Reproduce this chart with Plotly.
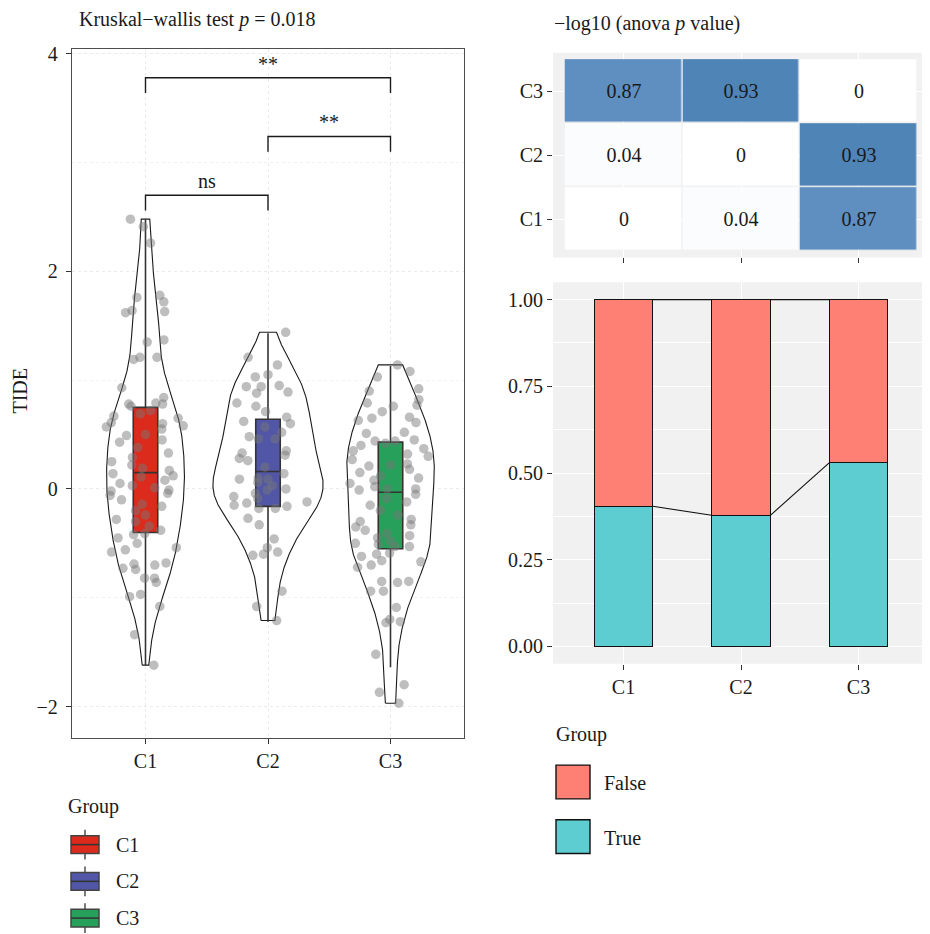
import numpy as np
import plotly.graph_objects as go

# page body has an 8px margin: the figure is offset by OFF px, so it is sized to fit
OFF = 8
W, H = 930 - OFF, 934 - OFF
FONT = "Liberation Serif"
FS = 20
TXT = "#1a1a1a"

# ---------------- data ----------------
groups = ["C1", "C2", "C3"]
group_colors = ["#DC2B1C", "#5256A6", "#26A05A"]

tide_c1 = [2.48, 2.41, 2.26, 1.78, 1.76, 1.72, 1.64, 1.63, 1.62, 1.37, 1.35, 1.21, 1.21, 1.19,
           0.93, 0.84, 0.79, 0.78, 0.78, 0.76, 0.72, 0.69, 0.67, 0.65, 0.61, 0.60, 0.58, 0.57,
           0.55, 0.50, 0.49, 0.45, 0.43, 0.38, 0.33, 0.29, 0.25, 0.22, 0.19, 0.17, 0.14, 0.12,
           0.11, 0.08, 0.05, 0.03, 0.01, -0.01, -0.02, -0.04, -0.06, -0.10, -0.14, -0.16, -0.20,
           -0.24, -0.28, -0.30, -0.34, -0.38, -0.41, -0.42, -0.45, -0.50, -0.54, -0.56, -0.58,
           -0.68, -0.69, -0.70, -0.73, -0.74, -0.82, -0.82, -0.86, -0.97, -0.99, -1.08, -1.34, -1.62]
tide_c2 = [1.44, 1.21, 1.14, 1.05, 1.03, 0.95, 0.94, 0.94, 0.89, 0.88, 0.79, 0.76, 0.71, 0.66,
           0.62, 0.60, 0.57, 0.52, 0.48, 0.46, 0.46, 0.35, 0.33, 0.31, 0.28, 0.26, 0.20, 0.14,
           0.10, 0.09, 0.09, 0.06, 0.03, 0.00, -0.01, -0.04, -0.07, -0.09, -0.12, -0.13, -0.15,
           -0.16, -0.18, -0.18, -0.27, -0.33, -0.46, -0.54, -0.58, -0.60, -0.61, -0.94, -1.08, -1.21]
tide_c3 = [1.14, 1.08, 1.03, 0.92, 0.90, 0.82, 0.79, 0.77, 0.76, 0.71, 0.66, 0.65, 0.63, 0.61,
           0.52, 0.51, 0.45, 0.44, 0.44, 0.42, 0.40, 0.37, 0.35, 0.32, 0.30, 0.27, 0.23, 0.22,
           0.21, 0.18, 0.15, 0.12, 0.10, 0.08, 0.05, 0.02, 0.00, 0.00, -0.01, -0.05, -0.09, -0.12,
           -0.15, -0.20, -0.24, -0.28, -0.30, -0.33, -0.35, -0.38, -0.41, -0.43, -0.45, -0.48,
           -0.50, -0.51, -0.53, -0.53, -0.59, -0.60, -0.62, -0.66, -0.67, -0.70, -0.72, -0.85,
           -0.85, -0.86, -0.94, -0.94, -1.09, -1.20, -1.22, -1.23, -1.52, -1.80, -1.87, -1.97]

box_q1 = [-0.40, -0.16, -0.55]
box_median = [0.15, 0.16, -0.03]
box_q3 = [0.75, 0.64, 0.43]
box_lowerfence = [-1.62, -1.22, -1.64]
box_upperfence = [2.48, 1.43, 1.13]

kruskal_p = "0.018"
comparisons = [("C1", "C3", "**", 3.78), ("C2", "C3", "**", 3.24), ("C1", "C2", "ns", 2.70)]

anova_neglog10 = [  # rows: C1, C2, C3 ; cols: C1, C2, C3
    [0, 0.04, 0.87],
    [0.04, 0, 0.93],
    [0.87, 0.93, 0],
]

true_frac = [0.404, 0.378, 0.529]
false_frac = [round(1 - v, 3) for v in true_frac]
tf_labels = ["False", "True"]
tf_colors = ["#FE8075", "#5ECDD1"]

# ---------------- helpers ----------------
def px_x(p):
    return (p - OFF) / W


def px_y(p):
    return 1 - (p - OFF) / H


def nrd0(v):
    v = np.asarray(v, dtype=float)
    sd = v.std(ddof=1)
    q75, q25 = np.percentile(v, [75, 25])
    lo = min(sd, (q75 - q25) / 1.34)
    return 0.9 * lo * len(v) ** (-0.2)


def kde_trimmed(v, n=512):
    v = np.asarray(v, dtype=float)
    bw = nrd0(v)
    ys = np.linspace(v.min(), v.max(), n)
    d = np.exp(-0.5 * ((ys[:, None] - v[None, :]) / bw) ** 2).sum(axis=1)
    d /= len(v) * bw * np.sqrt(2 * np.pi)
    return ys, d


pos = list(range(1, len(groups) + 1))
tide = [tide_c1, tide_c2, tide_c3]
X_RANGE = [0.4, 3.6]
Y_RANGE = [-2.292, 4.046]

fig = go.Figure()

# violins (ggplot-style: trimmed, equal area, widest = 0.9)
kdes = [kde_trimmed(v) for v in tide]
dmax = max(d.max() for _, d in kdes)
for i, (ys, d) in enumerate(kdes):
    hw = 0.45 * d / dmax
    xs = np.concatenate([pos[i] - hw, (pos[i] + hw)[::-1], [pos[i] - hw[0]]])
    yy = np.concatenate([ys, ys[::-1], [ys[0]]])
    fig.add_trace(go.Scatter(x=xs, y=yy, xaxis="x", yaxis="y", mode="lines",
                             fill="toself", fillcolor="white",
                             line=dict(color="#1a1a1a", width=1.1),
                             hoverinfo="skip", showlegend=False))

# boxes (precomputed stats) on an overlaying subplot so they sit above the violins
for i, g in enumerate(groups):
    fig.add_trace(go.Box(
        x=[pos[i]], q1=[box_q1[i]], median=[box_median[i]], q3=[box_q3[i]],
        lowerfence=[box_lowerfence[i]], upperfence=[box_upperfence[i]],
        xaxis="x4", yaxis="y4", width=0.2, whiskerwidth=0,
        fillcolor=group_colors[i], line=dict(color="#333333", width=1.6),
        boxpoints=False, hoverinfo="skip", showlegend=False))

# jittered points
for i, g in enumerate(groups):
    fig.add_trace(go.Box(
        x=[pos[i]] * len(tide[i]), y=tide[i], xaxis="x4", yaxis="y4",
        width=0.72, boxpoints="all", jitter=1, pointpos=0, whiskerwidth=0,
        fillcolor="rgba(0,0,0,0)", line=dict(color="rgba(0,0,0,0)", width=0),
        marker=dict(color="rgba(120,120,120,0.48)", size=9.5, line=dict(width=0)),
        hoverinfo="skip", showlegend=False))

# heatmap
fig.add_trace(go.Heatmap(
    z=anova_neglog10, x=groups, y=groups, xaxis="x2", yaxis="y2",
    colorscale=[[0, "#FFFFFF"], [0.05, "#FAFBFD"], [0.935, "#5E8FC0"], [1, "#4F84B7"]],
    zmin=0, zmax=0.93,
    xgap=1.5, ygap=1.5, showscale=False, texttemplate="%{z}",
    textfont=dict(family=FONT, size=FS, color=TXT), hoverinfo="skip"))

# stacked bars
for lab, vals, col in [("True", true_frac, tf_colors[1]), ("False", false_frac, tf_colors[0])]:
    fig.add_trace(go.Bar(
        x=pos, y=vals, xaxis="x3", yaxis="y3", width=0.5, name=lab,
        marker=dict(color=col, line=dict(color="#111111", width=1)),
        hoverinfo="skip", showlegend=False))

# connecting lines between bars
half = 0.25
cum_levels = [true_frac, [t + f for t, f in zip(true_frac, false_frac)]]
for lvl in cum_levels:
    xs, ys = [], []
    for i in range(len(pos) - 1):
        xs += [pos[i] + half, pos[i + 1] - half, None]
        ys += [lvl[i], lvl[i + 1], None]
    fig.add_trace(go.Scatter(x=xs, y=ys, xaxis="x3", yaxis="y3", mode="lines",
                             line=dict(color="#111111", width=1.1),
                             hoverinfo="skip", showlegend=False))

tickfont = dict(family=FONT, size=FS, color=TXT)

shapes = []
annotations = []

# significance brackets
gidx = {g: p for g, p in zip(groups, pos)}
for a, b, lab, yv in comparisons:
    drop = 0.14
    shapes.append(dict(type="path", xref="x", yref="y",
                       path=f"M {gidx[a]},{yv - drop} L {gidx[a]},{yv} L {gidx[b]},{yv} L {gidx[b]},{yv - drop}",
                       line=dict(color="#1a1a1a", width=1.4)))
    annotations.append(dict(xref="x", yref="y", x=(gidx[a] + gidx[b]) / 2, y=yv, text=lab,
                            showarrow=False, yanchor="bottom", yshift=1,
                            font=dict(family=FONT, size=FS, color=TXT)))

# grey panel backgrounds for right-hand plots
for xr, yr in [("x2 domain", "y2 domain"), ("x3 domain", "y3 domain")]:
    shapes.append(dict(type="rect", xref=xr, yref=yr, x0=0, x1=1, y0=0, y1=1,
                       fillcolor="#F1F1F1", line=dict(width=0), layer="below"))

# titles
annotations.append(dict(xref="paper", yref="paper", x=px_x(77), y=px_y(14),
                        xanchor="left", yanchor="middle", showarrow=False,
                        text=f"Kruskal\u2212wallis test <i>p</i> = {kruskal_p}",
                        font=dict(family=FONT, size=FS, color=TXT)))
annotations.append(dict(xref="paper", yref="paper", x=px_x(552), y=px_y(18),
                        xanchor="left", yanchor="middle", showarrow=False,
                        text="\u2212log10 (anova <i>p</i> value)",
                        font=dict(family=FONT, size=FS, color=TXT)))
annotations.append(dict(xref="paper", yref="paper", x=px_x(20), y=px_y(387),
                        xanchor="center", yanchor="middle", showarrow=False, textangle=-90,
                        text="TIDE", font=dict(family=FONT, size=FS, color=TXT)))

# left legend (box glyphs)
annotations.append(dict(xref="paper", yref="paper", x=px_x(66), y=px_y(806),
                        xanchor="left", yanchor="middle", showarrow=False,
                        text="Group", font=dict(family=FONT, size=FS, color=TXT)))
leg_centers = [844, 881, 918]
for i, g in enumerate(groups):
    cy = leg_centers[i]
    shapes.append(dict(type="line", xref="paper", yref="paper",
                       x0=px_x(85), x1=px_x(85), y0=px_y(cy - 15), y1=px_y(cy + 15),
                       line=dict(color="#333333", width=1.3)))
    shapes.append(dict(type="rect", xref="paper", yref="paper",
                       x0=px_x(71), x1=px_x(99), y0=px_y(cy + 9), y1=px_y(cy - 9),
                       fillcolor=group_colors[i], line=dict(color="#444444", width=1.5)))
    shapes.append(dict(type="line", xref="paper", yref="paper",
                       x0=px_x(71), x1=px_x(99), y0=px_y(cy), y1=px_y(cy),
                       line=dict(color="#333333", width=1.5)))
    annotations.append(dict(xref="paper", yref="paper", x=px_x(114), y=px_y(cy),
                            xanchor="left", yanchor="middle", showarrow=False,
                            text=g, font=dict(family=FONT, size=FS, color=TXT)))

# right legend (squares)
annotations.append(dict(xref="paper", yref="paper", x=px_x(554), y=px_y(733),
                        xanchor="left", yanchor="middle", showarrow=False,
                        text="Group", font=dict(family=FONT, size=FS, color=TXT)))
sq_tops = [764, 819]
for i, lab in enumerate(tf_labels):
    t = sq_tops[i]
    shapes.append(dict(type="rect", xref="paper", yref="paper",
                       x0=px_x(556), x1=px_x(590), y0=px_y(t + 34), y1=px_y(t),
                       fillcolor=tf_colors[i], line=dict(color="#111111", width=1.4)))
    annotations.append(dict(xref="paper", yref="paper", x=px_x(602), y=px_y(t + 18),
                            xanchor="left", yanchor="middle", showarrow=False,
                            text=lab, font=dict(family=FONT, size=FS, color=TXT)))

fig.update_layout(
    width=W, height=H, margin=dict(l=0, r=0, t=0, b=0),
    paper_bgcolor="white", plot_bgcolor="white",
    boxmode="overlay", barmode="stack",
    showlegend=False, font=dict(family=FONT, size=FS, color=TXT),
    shapes=shapes, annotations=annotations,
    xaxis=dict(domain=[px_x(72), px_x(464)], range=X_RANGE, anchor="y",
               tickmode="array", tickvals=pos, ticktext=groups, tickfont=tickfont,
               showline=True, mirror=True, linecolor="#4d4d4d", linewidth=1.4,
               ticks="outside", ticklen=5, tickwidth=1.3, tickcolor="#333333",
               showgrid=True, gridcolor="#EBEBEB", griddash="dot", gridwidth=1, zeroline=False),
    yaxis=dict(domain=[px_y(737), px_y(43)], range=Y_RANGE, anchor="x",
               tickmode="array", tickvals=[-2, 0, 2, 4], ticktext=["\u22122", "0", "2", "4"],
               tickfont=tickfont, ticklabelstandoff=4,
               showline=True, mirror=True, linecolor="#4d4d4d", linewidth=1.4,
               ticks="outside", ticklen=5, tickwidth=1.3, tickcolor="#333333",
               showgrid=True, gridcolor="#EBEBEB", griddash="dot", gridwidth=1, zeroline=False,
               minor=dict(tickvals=[-1, 1, 3], showgrid=True, gridcolor="#F0F0F0",
                          griddash="dot", ticks="")),
    xaxis4=dict(overlaying="x", anchor="y4", range=X_RANGE, visible=False,
                showgrid=False, zeroline=False),
    yaxis4=dict(overlaying="y", anchor="x4", range=Y_RANGE, visible=False,
                showgrid=False, zeroline=False),
    xaxis2=dict(domain=[px_x(553), px_x(929)], range=[-0.6, 2.6], anchor="y2",
                type="category", showticklabels=False, ticks="outside", ticklen=5,
                tickwidth=1.3, tickcolor="#333333", showline=False,
                showgrid=True, gridcolor="white", gridwidth=1.3, zeroline=False),
    yaxis2=dict(domain=[px_y(253), px_y(47)], range=[-0.6, 2.6], anchor="x2",
                type="category", tickfont=tickfont, ticks="outside", ticklen=5,
                tickwidth=1.3, tickcolor="#333333", showline=False,
                showgrid=True, gridcolor="white", gridwidth=1.3, zeroline=False),
    xaxis3=dict(domain=[px_x(553), px_x(929)], range=[0.4, 3.6], anchor="y3",
                tickmode="array", tickvals=pos, ticktext=groups, tickfont=tickfont,
                ticks="outside", ticklen=5, tickwidth=1.3, tickcolor="#333333",
                showline=False, showgrid=True, gridcolor="white", gridwidth=1.3, zeroline=False),
    yaxis3=dict(domain=[px_y(662), px_y(278)], range=[-0.05, 1.05], anchor="x3",
                tickmode="array", tickvals=[0, 0.25, 0.5, 0.75, 1.0],
                ticktext=["0.00", "0.25", "0.50", "0.75", "1.00"], tickfont=tickfont,
                ticks="outside", ticklen=5, tickwidth=1.3, tickcolor="#333333",
                showline=False, showgrid=True, gridcolor="white", gridwidth=1.3, zeroline=False,
                minor=dict(tickvals=[0.125, 0.375, 0.625, 0.875], showgrid=True,
                           gridcolor="white", gridwidth=0.8, ticks="")),
)

fig.write_html("out.html")
